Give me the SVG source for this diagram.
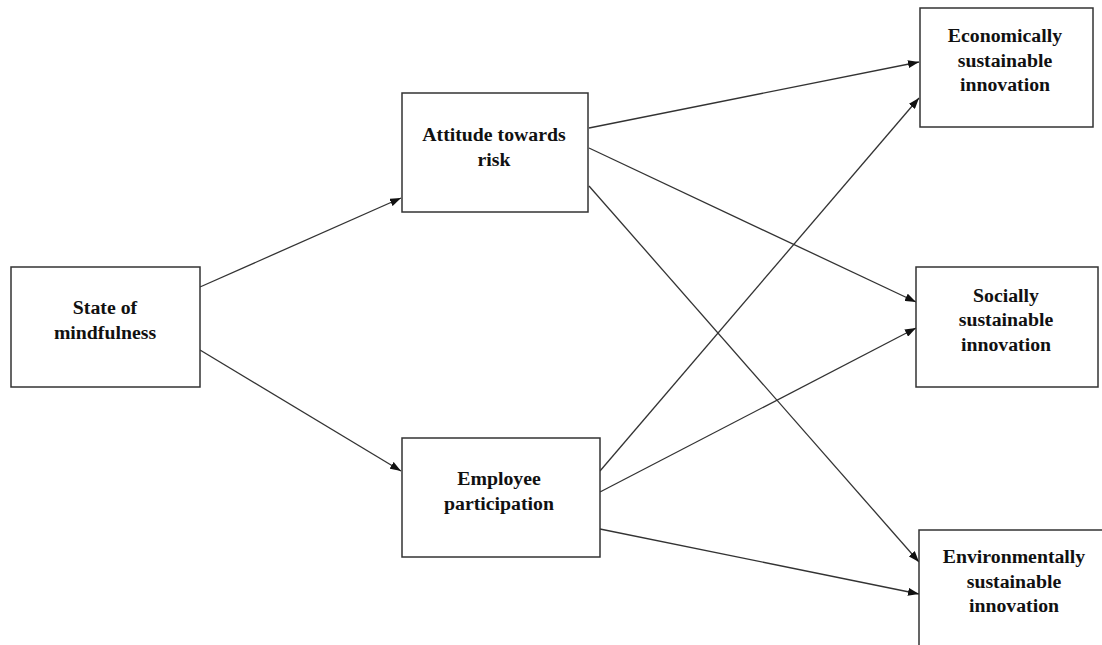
<svg xmlns="http://www.w3.org/2000/svg" width="1102" height="645" viewBox="0 0 1102 645">
<style>
.box{fill:#fff;stroke:#333;stroke-width:1.5}
.lbl{font-family:"Liberation Serif","Times New Roman",serif;font-weight:bold;font-size:19.8px;fill:#111;text-anchor:middle}
.con{stroke:#333;stroke-width:1.3;fill:none;marker-end:url(#ah)}
</style>
<defs>
<marker id="ah" markerUnits="userSpaceOnUse" markerWidth="11" markerHeight="8" refX="11" refY="4" orient="auto">
<path d="M0,0 L11,4 L0,8 z" fill="#111"/>
</marker>
</defs>
<rect width="1102" height="645" fill="#fff"/>
<g id="connectors">
<line class="con" x1="200" y1="287" x2="401" y2="198"/>
<line class="con" x1="200" y1="350" x2="401" y2="471"/>
<line class="con" x1="589" y1="128" x2="919" y2="62"/>
<line class="con" x1="589" y1="148" x2="916" y2="302"/>
<line class="con" x1="589" y1="186" x2="919" y2="562"/>
<line class="con" x1="600" y1="471" x2="919" y2="98"/>
<line class="con" x1="600" y1="492" x2="916" y2="328"/>
<line class="con" x1="600" y1="529" x2="919" y2="594"/>
</g>
<g id="state">
<rect class="box" x="11" y="267" width="189" height="120"/>
<text class="lbl" x="105" y="314">State of</text>
<text class="lbl" x="105" y="339">mindfulness</text>
</g>
<g id="attitude">
<rect class="box" x="402" y="93" width="186" height="119"/>
<text class="lbl" x="494" y="141">Attitude towards</text>
<text class="lbl" x="494" y="166">risk</text>
</g>
<g id="employee">
<rect class="box" x="402" y="438" width="198" height="119"/>
<text class="lbl" x="499" y="485">Employee</text>
<text class="lbl" x="499" y="510">participation</text>
</g>
<g id="economic">
<rect class="box" x="920" y="8" width="173" height="119"/>
<text class="lbl" x="1005" y="42">Economically</text>
<text class="lbl" x="1005" y="67">sustainable</text>
<text class="lbl" x="1005" y="91">innovation</text>
</g>
<g id="social">
<rect class="box" x="916" y="267" width="182" height="120"/>
<text class="lbl" x="1006" y="302">Socially</text>
<text class="lbl" x="1006" y="326">sustainable</text>
<text class="lbl" x="1006" y="351">innovation</text>
</g>
<g id="environmental">
<rect class="box" x="919" y="530" width="200" height="130"/>
<text class="lbl" x="1014" y="563">Environmentally</text>
<text class="lbl" x="1014" y="588">sustainable</text>
<text class="lbl" x="1014" y="612">innovation</text>
</g>
</svg>
